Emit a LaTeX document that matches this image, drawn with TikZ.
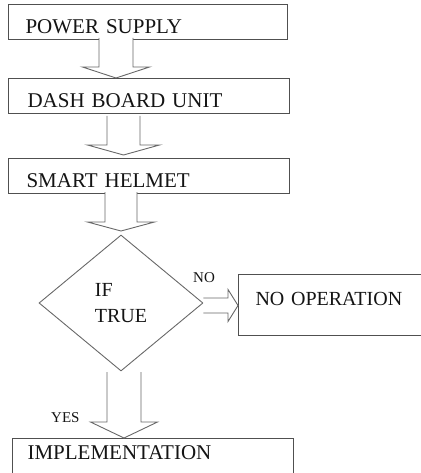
\documentclass[tikz,border=0pt]{standalone}
\usepackage{fontspec}
\setmainfont{Liberation Serif}
\usetikzlibrary{shapes.geometric}
\definecolor{txt}{HTML}{141414}
\definecolor{edge}{HTML}{505050}
\definecolor{arr}{HTML}{686868}
\tikzset{
  box/.style={draw=edge, line width=1.1pt, inner ysep=0pt, align=left, text=txt,
    font=\fontsize{21}{25}\selectfont},
  barrow/.style={draw=arr, line width=0.9pt, fill=white, line join=miter},
  lbl/.style={inner sep=0pt, text=txt, font=\fontsize{15}{18}\selectfont, anchor=base west}
}
% #1 centre x, #2 top y, #3 tip y, #4 shaft half width, #5 head half width, #6 head length
\newcommand{\blockdown}[6]{%
  \draw[barrow] ({#1-#4},#2) -- ({#1-#4},{#3-#6}) -- ({#1-#5},{#3-#6}) -- (#1,#3)
    -- ({#1+#5},{#3-#6}) -- ({#1+#4},{#3-#6}) -- ({#1+#4},#2);}
\begin{document}
\begin{tikzpicture}[x=1pt,y=-1pt]
\useasboundingbox (0,0) rectangle (420,473);
\node[box, anchor=north west, text width=245pt, inner xsep=17pt, text height=29pt, text depth=6pt] (ps) at (8,4) {POWER SUPPLY};
\node[box, anchor=north west, text width=243pt, inner xsep=19pt, text height=29pt, text depth=6pt] (db) at (8,78) {DASH BOARD UNIT};
\node[box, anchor=north west, text width=245pt, inner xsep=18pt, text height=29pt, text depth=6pt] (sh) at (8,158) {SMART HELMET};
\node[diamond, draw=arr, line width=0.9pt, minimum width=164pt, minimum height=136pt, inner sep=0pt, align=left, text=txt, font=\fontsize{20}{26}\selectfont] (dec) at (121,303) {IF\\TRUE};
\node[box, anchor=north west, text width=158pt, inner xsep=17pt, text height=31pt, text depth=30pt, font=\fontsize{20}{24}\selectfont] (noop) at (238,274) {NO OPERATION};
\node[box, anchor=north west, text width=251pt, inner xsep=15pt, text height=21pt, text depth=16pt] (impl) at (12,438) {IMPLEMENTATION};
\node[lbl] (no) at (193,282) {NO};
\node[lbl] (yes) at (51,422) {YES};
% block arrows between the nodes
\blockdown{116}{38}{78}{17}{33.5}{11}
\blockdown{123.5}{116}{155}{16.5}{36}{10}
\blockdown{121}{192}{231}{16}{33.5}{9}
\blockdown{124}{372}{438}{17}{33.5}{16}
\coordinate (ra) at (dec.east);
\coordinate (rb) at (noop.west |- dec.east);
\draw[barrow] ([yshift=5pt]ra) -- ([xshift=-10pt,yshift=5pt]rb) -- ([xshift=-10pt,yshift=13.5pt]rb)
  -- ([yshift=-2.5pt]rb) -- ([xshift=-10pt,yshift=-18.5pt]rb) -- ([xshift=-10pt,yshift=-10pt]rb) -- ([yshift=-10pt]ra);
\end{tikzpicture}
\end{document}
